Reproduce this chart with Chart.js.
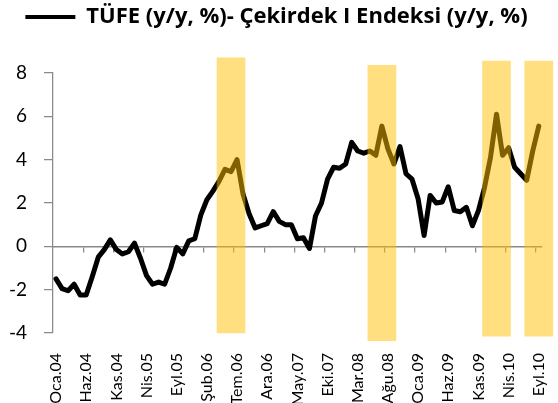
<!DOCTYPE html>
<html lang="tr">
<head>
  <meta charset="UTF-8">
  <title>TÜFE - Çekirdek I Endeksi</title>
  <script src="https://cdn.jsdelivr.net/npm/chart.js@4.4.1/dist/chart.umd.min.js"></script>
  <style>
    html, body { margin: 0; padding: 0; background: #fff; }
    #wrap { width: 558px; height: 403px; position: relative; }
  </style>
</head>
<body>
<div id="wrap"><canvas id="myChart"></canvas></div>
<script>
    // months Oca.04 .. Eyl.10
    const monthNames = ['Oca', 'Şub', 'Mar', 'Nis', 'May', 'Haz', 'Tem', 'Ağu', 'Eyl', 'Eki', 'Kas', 'Ara'];
    const years = ['04', '05', '06', '07', '08', '09', '10'];
    const lastMonth = 'Eyl.10';

    const seriesName = 'TÜFE (y/y, %)- Çekirdek I Endeksi (y/y, %)';
    const spread = [
      -1.5, -1.95, -2.05, -1.75, -2.25, -2.25, -1.4, -0.5, -0.15, 0.3, -0.15, -0.35,
      -0.25, 0.15, -0.55, -1.35, -1.75, -1.65, -1.75, -1.0, -0.05, -0.35, 0.25, 0.35,
      1.45, 2.15, 2.55, 3.0, 3.55, 3.45, 4.0, 2.4, 1.5, 0.85, 0.95, 1.05,
      1.6, 1.15, 1.0, 1.0, 0.35, 0.4, -0.1, 1.4, 2.0, 3.1, 3.65, 3.6,
      3.8, 4.8, 4.4, 4.3, 4.4, 4.2, 5.55, 4.5, 3.8, 4.6, 3.35, 3.1,
      2.2, 0.5, 2.35, 2.0, 2.05, 2.75, 1.65, 1.6, 1.8, 0.95, 1.65, 2.7,
      4.1, 6.1, 4.2, 4.55, 3.65, 3.35, 3.05, 4.4, 5.55
    ];

    // shaded periods (centre month, bottom, top)
    const bandMonths = ['Haz.06', 'Tem.08', 'Şub.10', 'Eyl.10'];
    const bandLow = [-4.0, -4.35, -4.15, -4.15];
    const bandHigh = [8.7, 8.35, 8.55, 8.55];

    const yTicks = [-4, -2, 0, 2, 4, 6, 8];

    const labels = [];
    years.forEach(y => monthNames.forEach(m => {
      if (labels.length && labels[labels.length - 1] === lastMonth) return;
      labels.push(m + '.' + y);
    }));

    const bands = labels.map(l => {
      const k = bandMonths.indexOf(l);
      return k < 0 ? null : [bandLow[k], bandHigh[k]];
    });

    const legendHeight = {
      id: 'legendHeight',
      beforeInit(chart) {
        const fit = chart.legend.fit;
        chart.legend.fit = function () {
          fit.call(this);
          this.height = 73;
        };
      }
    };

    const axisGrey = '#898989';
    const ctx = document.getElementById('myChart');
    const myChart = new Chart(ctx, {
      data: {
        labels: labels,
        datasets: [{
          type: 'bar',
          label: 'bands',
          data: bands,
          backgroundColor: 'rgba(255, 192, 0, 0.5)',
          borderWidth: 0,
          barThickness: 28,
          clip: false,
          order: 0
        }, {
          type: 'line',
          label: seriesName,
          data: spread,
          borderColor: '#000',
          backgroundColor: '#000',
          borderWidth: 5,
          borderJoinStyle: 'round',
          borderCapStyle: 'round',
          pointRadius: 0,
          tension: 0,
          order: 1
        }]
      },
      options: {
        responsive: true,
        maintainAspectRatio: false,
        animation: false,
        events: [],
        layout: { padding: { left: 0, right: 5, top: 0, bottom: 0 } },
        plugins: {
          tooltip: { enabled: false },
          legend: {
            position: 'top',
            labels: {
              color: '#000',
              font: { family: 'Open Sans', size: 22, weight: 'bold' },
              boxWidth: 50,
              boxHeight: 4,
              padding: 6,
              generateLabels: () => [{
                text: seriesName,
                fillStyle: '#000',
                strokeStyle: '#000',
                lineWidth: 0,
                datasetIndex: 1
              }]
            }
          }
        },
        scales: {
          x: {
            type: 'category',
            offset: true,
            grid: { display: false, drawTicks: true, tickLength: 20 },
            border: { display: false },
            ticks: {
              autoSkip: false,
              minRotation: 90,
              maxRotation: 90,
              padding: 0,
              color: '#000',
              font: { family: 'Lato', size: 16 },
              callback: function (v, i) { return i % 5 === 0 ? this.getLabelForValue(v) : null; }
            },
            afterFit(scale) { scale.height = 70; }
          },
          x0: {
            type: 'category',
            position: { y: 0 },
            offset: true,
            ticks: { display: false },
            grid: {
              offset: true,
              drawOnChartArea: false,
              drawTicks: true,
              tickLength: 5,
              lineWidth: 1.25,
              color: c => (c.index % 5 === 0 && c.index > 0 && c.index <= 80) ? axisGrey : 'rgba(0,0,0,0)'
            },
            border: { display: true, color: axisGrey, width: 1.5 }
          },
          y: {
            min: -4,
            max: 8,
            afterBuildTicks(scale) { scale.ticks = yTicks.map(v => ({ value: v })); },
            grid: { drawOnChartArea: false, tickLength: 9, color: axisGrey, lineWidth: 1.25 },
            border: { display: true, color: axisGrey, width: 1.25 },
            ticks: {
              padding: 17,
              color: '#000',
              font: { family: 'Lato', size: 19 }
            },
            afterFit(scale) { scale.width = 53; }
          }
        }
      },
      plugins: [legendHeight]
    });
</script>
</body>
</html>
